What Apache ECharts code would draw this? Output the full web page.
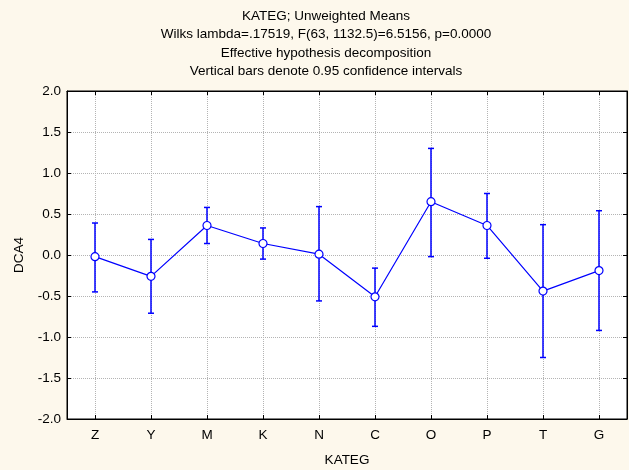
<!DOCTYPE html>
<html>
<head>
<meta charset="utf-8">
<script src="https://cdn.jsdelivr.net/npm/echarts@6/dist/echarts.min.js"></script>
<style>
html,body{margin:0;padding:0;background:#fdf8ec;}
#chart{width:629px;height:470px;}
</style>
</head>
<body>
<div id="chart"></div>
<script>
// Group categories and DCA4 unweighted means with 95% confidence limits
const categories = ['Z', 'Y', 'M', 'K', 'N', 'C', 'O', 'P', 'T', 'G'];
const means = [-0.02, -0.26, 0.36, 0.14, 0.01, -0.51, 0.65, 0.36, -0.44, -0.19];
const lowerCI = [-0.45, -0.71, 0.14, -0.05, -0.56, -0.87, -0.02, -0.04, -1.25, -0.92];
const upperCI = [0.39, 0.19, 0.58, 0.33, 0.59, -0.16, 1.30, 0.75, 0.37, 0.54];
const yTicks = { min: -2.0, max: 2.0, step: 0.5 };

const titleLines = [
  'KATEG; Unweighted Means',
  'Wilks lambda=.17519, F(63, 1132.5)=6.5156, p=0.0000',
  'Effective hypothesis decomposition',
  'Vertical bars denote 0.95 confidence intervals'
];

const FONT = 'Liberation Sans, Arial, sans-serif';
const FS = 13.5;
const BLUE = '#0000ff';

const chart = echarts.init(document.getElementById('chart'), null, { renderer: 'canvas' });

const errData = categories.map((c, i) => [i, lowerCI[i], upperCI[i]]);

const gridLine = { show: true, lineStyle: { color: '#b4b4b4', type: [1, 1], width: 1 } };
const frameLine = { show: true, onZero: false, lineStyle: { color: '#000', width: 1 } };
const innerTick = { show: true, inside: true, length: 4, alignWithLabel: true, lineStyle: { color: '#000' } };

chart.setOption({
  backgroundColor: '#fdf8ec',
  animation: false,
  title: {
    text: titleLines.join('\n'),
    left: 321,
    top: 2,
    textAlign: 'center',
    textStyle: { fontFamily: FONT, fontSize: FS, fontWeight: 'normal', color: '#000', lineHeight: 18.5 }
  },
  grid: {
    left: 67, right: 2, top: 91, bottom: 51,
    containLabel: false, outerBoundsMode: 'none',
    show: true, backgroundColor: '#ffffff', borderColor: '#000', borderWidth: 1
  },
  xAxis: [
    {
      type: 'category',
      data: categories,
      position: 'bottom',
      boundaryGap: true,
      name: 'KATEG',
      nameLocation: 'middle',
      nameGap: 34,
      nameTextStyle: { fontFamily: FONT, fontSize: FS, color: '#000' },
      axisLine: frameLine,
      axisTick: innerTick,
      axisLabel: { margin: 9, fontFamily: FONT, fontSize: FS, color: '#000' },
      splitLine: Object.assign({ alignWithLabel: true }, gridLine)
    },
    {
      type: 'category',
      data: categories,
      position: 'top',
      boundaryGap: true,
      axisLine: frameLine,
      axisTick: innerTick,
      axisLabel: { show: false },
      splitLine: { show: false }
    }
  ],
  yAxis: [
    {
      type: 'value',
      min: yTicks.min,
      max: yTicks.max,
      interval: yTicks.step,
      position: 'left',
      name: 'DCA4',
      nameLocation: 'middle',
      nameGap: 41,
      nameTextStyle: { fontFamily: FONT, fontSize: FS, color: '#000' },
      axisLine: frameLine,
      axisTick: innerTick,
      axisLabel: { margin: 6, fontFamily: FONT, fontSize: FS, color: '#000', formatter: v => v.toFixed(1) },
      splitLine: gridLine
    },
    {
      type: 'value',
      min: yTicks.min,
      max: yTicks.max,
      interval: yTicks.step,
      position: 'right',
      axisLine: frameLine,
      axisTick: innerTick,
      axisLabel: { show: false },
      splitLine: { show: false }
    }
  ],
  series: [
    {
      type: 'custom',
      name: 'CI',
      xAxisIndex: 0,
      yAxisIndex: 0,
      data: errData,
      z: 2,
      renderItem: function (params, api) {
        const x = api.value(0);
        const lo = api.coord([x, api.value(1)]);
        const hi = api.coord([x, api.value(2)]);
        const half = 3;
        const style = { stroke: BLUE, lineWidth: 1.5 };
        return {
          type: 'group',
          children: [
            { type: 'line', shape: { x1: lo[0], y1: lo[1], x2: hi[0], y2: hi[1] }, style: style },
            { type: 'line', shape: { x1: lo[0] - half, y1: lo[1], x2: lo[0] + half, y2: lo[1] }, style: style },
            { type: 'line', shape: { x1: hi[0] - half, y1: hi[1], x2: hi[0] + half, y2: hi[1] }, style: style }
          ]
        };
      }
    },
    {
      type: 'line',
      name: 'Mean',
      xAxisIndex: 0,
      yAxisIndex: 0,
      data: means,
      z: 3,
      symbol: 'circle',
      symbolSize: 8,
      lineStyle: { color: BLUE, width: 1.2 },
      itemStyle: { color: '#ffffff', borderColor: BLUE, borderWidth: 1.2 }
    }
  ]
});
</script>
</body>
</html>
